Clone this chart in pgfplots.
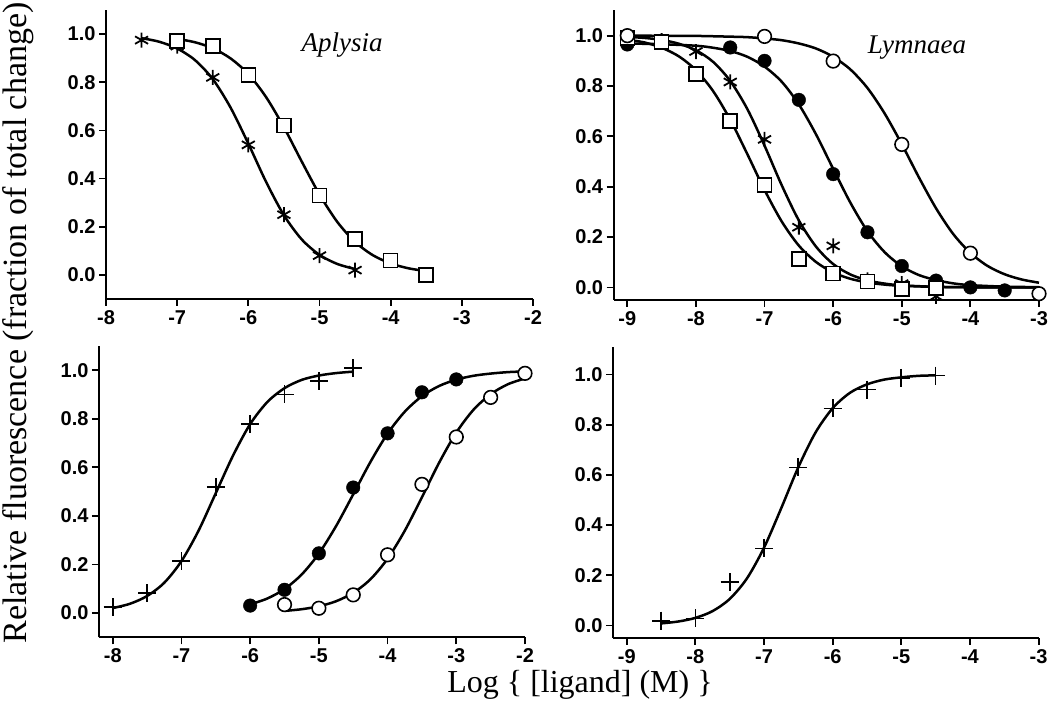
\documentclass[border=0pt]{standalone}
\usepackage{fontspec}
\setmainfont{Liberation Serif}
\newfontfamily\sansf{Liberation Sans}
\usepackage{pgfplots}
\pgfplotsset{compat=1.18}
\pgfplotsset{
 panel/.style={
  scale only axis, anchor=south west,
  axis x line*=bottom, axis y line*=left,
  axis line style={-, line width=2pt},
  tick align=outside, major tick length=7pt,
  every tick/.style={black, line width=1.8pt},
  tick label style={font=\sansf\bfseries\fontsize{20}{22}\selectfont},
  xticklabel style={yshift=-1pt},
  /pgf/number format/assume math mode=true,
  ytick={0,0.2,0.4,0.6,0.8,1},
  yticklabel style={/pgf/number format/.cd, fixed, fixed zerofill, precision=1},
  xticklabel style={/pgf/number format/.cd, fixed, precision=0},
  clip=false,
 },
 fitc/.style={black, line width=2.5pt, smooth, no markers},
 starm/.style={only marks, black, mark=asterisk, mark size=7.5pt, mark options={line width=1.8pt}},
 sqm/.style={only marks, black, mark=square*, mark size=7pt, mark options={fill=white, line width=1.6pt}},
 ocm/.style={only marks, black, mark=*, mark size=6.8pt, mark options={fill=white, line width=1.6pt}},
 fcm/.style={only marks, black, mark=*, mark size=6.8pt, mark options={fill=black}},
 plm/.style={only marks, black, mark=+, mark size=9pt, mark options={line width=1.7pt}},
}
\begin{document}
\begin{tikzpicture}
\useasboundingbox (0pt,0pt) rectangle (1050pt,711pt);
% ---------------- top left: Aplysia
\begin{axis}[panel, at={(106pt,412pt)}, width=427pt, height=289pt,
  xmin=-8, xmax=-2, ymin=-0.1, ymax=1.1, xtick={-8,-7,-6,-5,-4,-3,-2}]
\addplot[fitc] coordinates {(-7.5,0.983)(-7.25,0.968)(-7,0.940)(-6.75,0.892)(-6.5,0.813)(-6.25,0.695)(-6,0.545)(-5.75,0.386)(-5.5,0.248)(-5.25,0.1475)(-5,0.0833)(-4.75,0.0455)(-4.5,0.0244)};
\addplot[fitc] coordinates {(-7,0.980)(-6.75,0.966)(-6.5,0.941)(-6.25,0.899)(-6,0.834)(-5.75,0.738)(-5.5,0.613)(-5.25,0.471)(-5,0.334)(-4.75,0.220)(-4.5,0.137)(-4.25,0.0818)(-4,0.0477)(-3.75,0.0274)(-3.5,0.0156)};
\addplot[starm] coordinates {(-7.5,0.975)(-7,0.95)(-6.5,0.82)(-6,0.54)(-5.5,0.25)(-5,0.08)(-4.5,0.02)};
\addplot[sqm] coordinates {(-7,0.97)(-6.5,0.95)(-6,0.83)(-5.5,0.62)(-5,0.33)(-4.5,0.15)(-4,0.06)(-3.5,0.0)};
\end{axis}
% ---------------- top right: Lymnaea
\begin{axis}[panel, at={(613.6pt,411pt)}, width=425.4pt, height=289.5pt,
  xmin=-9.2, xmax=-3, ymin=-0.05, ymax=1.1, xtick={-9,-8,-7,-6,-5,-4,-3}]
\addplot[fitc] coordinates {(-9,0.984)(-8.75,0.973)(-8.5,0.952)(-8.25,0.918)(-8,0.863)(-7.75,0.780)(-7.5,0.666)(-7.25,0.529)(-7,0.387)(-6.75,0.262)(-6.5,0.166)(-6.25,0.101)(-6,0.0593)(-5.75,0.0343)(-5.5,0.0196)(-5.25,0.0111)(-5,0.0063)(-4.5,0.002)(-4,0.0006)(-3.5,0.0002)(-3,0.0001)};
\addplot[fitc] coordinates {(-9,0.995)(-8.75,0.991)(-8.5,0.983)(-8.25,0.968)(-8,0.942)(-7.75,0.896)(-7.5,0.820)(-7.25,0.708)(-7,0.563)(-6.75,0.406)(-6.5,0.266)(-6.25,0.162)(-6,0.0928)(-5.75,0.0515)(-5.5,0.0280)(-5.25,0.0151)(-5,0.0081)(-4.5,0.0023)(-4,0.0006)(-3.5,0.0002)(-3,0.0)};
\addplot[fitc] coordinates {(-9,0.969)(-8.5,0.966)(-8,0.960)(-7.75,0.952)(-7.5,0.939)(-7.25,0.916)(-7,0.877)(-6.75,0.817)(-6.5,0.727)(-6.25,0.608)(-6,0.471)(-5.75,0.337)(-5.5,0.223)(-5.25,0.140)(-5,0.084)(-4.75,0.049)(-4.5,0.029)(-4.25,0.016)(-4,0.009)(-3.5,0.003)(-3,0.001)};
\addplot[fitc] coordinates {(-9,1.0)(-8.5,0.9995)(-8,0.999)(-7.5,0.996)(-7.25,0.994)(-7,0.989)(-6.75,0.982)(-6.5,0.969)(-6.25,0.949)(-6,0.916)(-5.75,0.866)(-5.5,0.792)(-5.25,0.691)(-5,0.569)(-4.75,0.437)(-4.5,0.314)(-4.25,0.212)(-4,0.137)(-3.75,0.0853)(-3.5,0.0521)(-3.25,0.0313)(-3,0.0187)};
\addplot[fcm] coordinates {(-9,0.965)(-7.5,0.953)(-7,0.90)(-6.5,0.745)(-6,0.45)(-5.5,0.219)(-5,0.085)(-4.5,0.027)(-4,0.0)(-3.5,-0.012)};
\addplot[starm] coordinates {(-9,0.98)(-8.5,0.98)(-8,0.937)(-7.5,0.816)(-7,0.588)(-6.5,0.239)(-6,0.165)(-5.5,0.03)(-5,0.015)(-4.5,-0.036)};
\addplot[sqm] coordinates {(-9,0.99)(-8.5,0.975)(-8,0.847)(-7.5,0.662)(-7,0.407)(-6.5,0.114)(-6,0.055)(-5.5,0.024)(-5,-0.007)(-4.5,-0.003)};
\addplot[ocm] coordinates {(-9,1.0)(-7,0.997)(-6,0.899)(-5,0.568)(-4,0.136)(-3,-0.025)};
\end{axis}
% ---------------- bottom left
\begin{axis}[panel, at={(99pt,73.6pt)}, width=426pt, height=291.5pt,
  xmin=-8.2, xmax=-2, ymin=-0.1, ymax=1.1, xtick={-8,-7,-6,-5,-4,-3,-2}]
\addplot[fitc] coordinates {(-8,0.0207)(-7.75,0.0384)(-7.5,0.0704)(-7.25,0.125)(-7,0.214)(-6.75,0.340)(-6.5,0.494)(-6.25,0.648)(-6,0.778)(-5.75,0.869)(-5.5,0.926)(-5.25,0.960)(-5,0.978)(-4.75,0.988)(-4.5,0.994)};
\addplot[fitc] coordinates {(-6,0.0359)(-5.75,0.0601)(-5.5,0.099)(-5.25,0.159)(-5,0.245)(-4.75,0.358)(-4.5,0.489)(-4.25,0.622)(-4,0.739)(-3.75,0.829)(-3.5,0.893)(-3.25,0.935)(-3,0.961)(-2.75,0.977)(-2.5,0.986)(-2.25,0.992)(-2,0.995)};
\addplot[fitc] coordinates {(-5.5,0.0090)(-5.25,0.0160)(-5,0.0280)(-4.75,0.0488)(-4.5,0.0836)(-4.25,0.139)(-4,0.224)(-3.75,0.339)(-3.5,0.477)(-3.25,0.619)(-3,0.743)(-2.75,0.837)(-2.5,0.901)(-2.25,0.942)(-2,0.966)};
\addplot[plm] coordinates {(-8,0.024)(-7.5,0.082)(-7,0.214)(-6.5,0.52)(-6,0.779)(-5.5,0.90)(-5,0.955)(-4.5,1.008)};
\addplot[fcm] coordinates {(-6,0.031)(-5.5,0.096)(-5,0.246)(-4.5,0.517)(-4,0.74)(-3.5,0.909)(-3,0.962)};
\addplot[ocm] coordinates {(-5.5,0.035)(-5,0.02)(-4.5,0.075)(-4,0.24)(-3.5,0.53)(-3,0.725)(-2.5,0.888)(-2,0.987)};
\end{axis}
% ---------------- bottom right
\begin{axis}[panel, at={(613pt,73pt)}, width=425.6pt, height=291pt,
  xmin=-9.2, xmax=-3, ymin=-0.05, ymax=1.11, xtick={-9,-8,-7,-6,-5,-4,-3}]
\addplot[fitc] coordinates {(-8.5,0.0081)(-8.25,0.0157)(-8,0.0301)(-7.75,0.0571)(-7.5,0.1056)(-7.25,0.187)(-7,0.310)(-6.75,0.467)(-6.5,0.631)(-6.25,0.769)(-6,0.866)(-5.75,0.927)(-5.5,0.961)(-5.25,0.980)(-5,0.989)(-4.75,0.995)(-4.5,0.997)};
\addplot[plm] coordinates {(-8.5,0.019)(-8,0.028)(-7.5,0.172)(-7,0.307)(-6.5,0.63)(-6,0.865)(-5.5,0.94)(-5,0.987)(-4.5,0.996)};
\end{axis}
\node[rotate=90, anchor=base, font=\fontsize{34}{36}\selectfont] at (26pt,388pt) {Relative fluorescence (fraction of total change)};
\node[anchor=base, font=\fontsize{32}{34}\selectfont] at (580pt,18pt) {Log \{ [ligand] (M) \}};
\node[anchor=base, font=\itshape\fontsize{27}{29}\selectfont] at (342pt,659pt) {Aplysia};
\node[anchor=base, font=\itshape\fontsize{27}{29}\selectfont] at (917pt,657pt) {Lymnaea};
\end{tikzpicture}
\end{document}
